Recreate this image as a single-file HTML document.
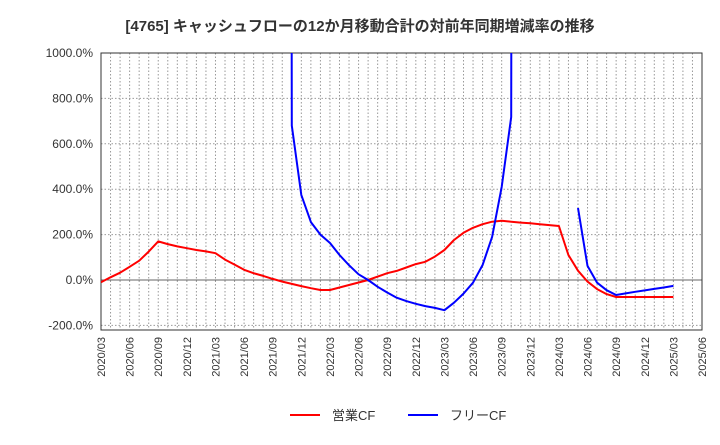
<!DOCTYPE html>
<html><head><meta charset="utf-8"><style>
body{margin:0;background:#fff;font-family:"Liberation Sans","Noto Sans CJK JP",sans-serif}
</style></head><body>
<svg id="c" width="720" height="440" xmlns="http://www.w3.org/2000/svg" font-family="Liberation Sans, Noto Sans CJK JP, sans-serif">
<text x="360" y="31" text-anchor="middle" font-size="15" font-weight="bold" fill="#333">[4765]  キャッシュフローの12か月移動合計の対前年同期増減率の推移</text>
<defs><clipPath id="clip"><rect x="101" y="53" width="601" height="277"/></clipPath></defs>
<g id="grid"></g><g id="axes"></g>
<g id="series" clip-path="url(#clip)"></g>
<g>
<line x1="290" y1="415" x2="320" y2="415" stroke="#f00" stroke-width="2"/>
<text x="332" y="420" font-size="13" fill="#333">営業CF</text>
<line x1="408" y1="415" x2="438" y2="415" stroke="#00f" stroke-width="2"/>
<text x="450" y="420" font-size="13" fill="#333">フリーCF</text>
</g>
</svg>
<script>
const yTicks=[1000,800,600,400,200,0,-200];
const xLabels=["2020/03","2020/06","2020/09","2020/12","2021/03","2021/06","2021/09","2021/12","2022/03","2022/06","2022/09","2022/12","2023/03","2023/06","2023/09","2023/12","2024/03","2024/06","2024/09","2024/12","2025/03","2025/06"];
const operatingCF=[-10,12,32,58,85,125,170,158,148,140,132,126,118,90,68,45,30,18,5,-7,-17,-27,-36,-44,-44,-33,-22,-11,0,15,30,40,55,70,80,103,132,176,208,230,246,257,261,257,253,250,246,242,238,110,41,-7,-40,-62,-75,-75,-75,-75,-75,-75,-75];
const freeCF=[null,null,null,null,null,null,null,null,null,null,null,null,null,null,null,null,null,null,null,30000,680,375,255,200,163,110,65,25,0,-30,-55,-78,-93,-105,-115,-123,-133,-100,-60,-12,66,190,410,718,30000,null,null,null,null,null,317,62,-12,-45,-66,-59,-52,-46,-39,-33,-26];
const X0=101,X1=702,NM=63,Y0=280,PPU=45.4/200;
const xs=i=>X0+i*(X1-X0)/NM, ys=v=>Y0-v*PPU;
const NS="http://www.w3.org/2000/svg";
function mk(t,a,p){const e=document.createElementNS(NS,t);for(const k in a)e.setAttribute(k,a[k]);p.appendChild(e);return e;}
const grid=document.getElementById('grid'),axes=document.getElementById('axes'),ser=document.getElementById('series');
for(let i=1;i<NM;i++){const l=mk('line',{x1:xs(i),x2:xs(i),y1:53,y2:330,stroke:'#999','stroke-dasharray':'1.5,2','stroke-width':1},grid);

}
for(let v=-200;v<=1000;v+=200){if(v===0)continue;const l=mk('line',{x1:101,x2:702,y1:ys(v),y2:ys(v),stroke:'#999','stroke-dasharray':'1.5,2'},grid);

}
const z=mk('line',{x1:101,x2:702,y1:ys(0),y2:ys(0),stroke:'#666'},grid);


const fr=mk('rect',{x:101,y:53,width:601,height:277,fill:'none',stroke:'#333'},axes);


yTicks.forEach(v=>{const t=mk('text',{x:93,y:ys(v)+4,'text-anchor':'end','font-size':12,fill:'#333'},axes);t.textContent=v.toFixed(1)+'%';

});
xLabels.forEach((s,k)=>{const x=xs(k*3)+4,y=337;const t=mk('text',{x:x,y:y,'text-anchor':'end','font-size':11,fill:'#333',transform:`rotate(-90 ${x} ${y})`},axes);t.textContent=s;

});
function draw(arr,color,name){let segs=[],cur=[];arr.forEach((v,i)=>{if(v===null){if(cur.length)segs.push(cur);cur=[];}else cur.push(xs(i).toFixed(1)+','+ys(v).toFixed(1));});if(cur.length)segs.push(cur);
segs.forEach(s=>{const p=mk('polyline',{points:s.join(' '),fill:'none',stroke:color,'stroke-width':2,'stroke-linejoin':'round'},ser);

});}
draw(operatingCF,'#f00','operating-cf-line');
draw(freeCF,'#00f','free-cf-line');
</script>
</body></html>
